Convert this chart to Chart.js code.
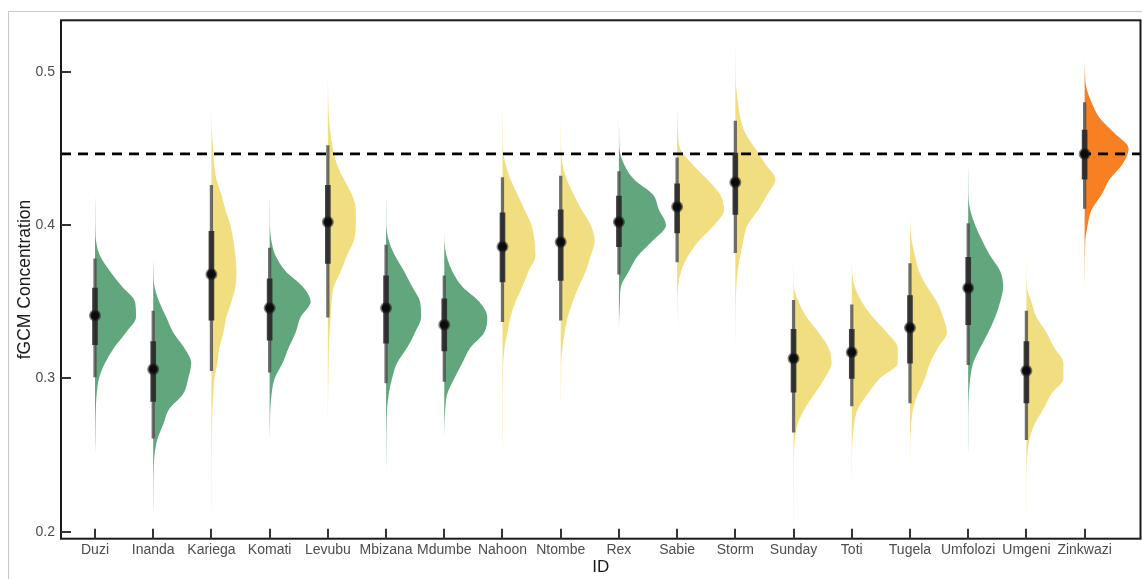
<!DOCTYPE html>
<html>
<head>
<meta charset="utf-8">
<script src="https://cdn.jsdelivr.net/npm/chart.js@4.4.1/dist/chart.umd.min.js"></script>
<style>
  html, body { margin: 0; padding: 0; background: #fff; overflow: hidden; }
  #wrap { position: relative; width: 1142px; height: 579px; overflow: hidden; }
  #frame { position: absolute; left: 8px; top: 11px; width: 1200px; height: 700px; border: 1px solid #c9c9c9; }
  #chart { position: absolute; left: 0; top: 0; }
</style>
</head>
<body>
<div id="wrap">
  <div id="frame"></div>
  <canvas id="chart" width="1142" height="579"></canvas>
</div>
<script>
// Sites along the x axis
const sites = ['Duzi', 'Inanda', 'Kariega', 'Komati', 'Levubu', 'Mbizana', 'Mdumbe', 'Nahoon', 'Ntombe',
    'Rex', 'Sabie', 'Storm', 'Sunday', 'Toti', 'Tugela', 'Umfolozi', 'Umgeni', 'Zinkwazi'];
// g = green, y = yellow, o = orange group
const siteGroup = ['g', 'g', 'y', 'g', 'y', 'g', 'g', 'y', 'y', 'g', 'y', 'y', 'y', 'y', 'y', 'g', 'y', 'o'];

// Point summaries (median, 66% and 95% intervals)
const median = [0.341, 0.306, 0.368, 0.346, 0.402, 0.346, 0.335, 0.386, 0.389, 0.402, 0.412, 0.428, 0.313, 0.317, 0.333, 0.359, 0.305, 0.4465];
const lo66 = [0.322, 0.285, 0.338, 0.325, 0.375, 0.323, 0.318, 0.363, 0.364, 0.386, 0.395, 0.407, 0.291, 0.300, 0.310, 0.335, 0.284, 0.430];
const hi66 = [0.359, 0.324, 0.396, 0.365, 0.426, 0.367, 0.352, 0.408, 0.410, 0.419, 0.427, 0.447, 0.332, 0.332, 0.354, 0.379, 0.324, 0.462];
const lo95 = [0.301, 0.261, 0.305, 0.304, 0.340, 0.297, 0.298, 0.337, 0.338, 0.368, 0.376, 0.382, 0.265, 0.282, 0.284, 0.309, 0.260, 0.411];
const hi95 = [0.378, 0.344, 0.426, 0.385, 0.452, 0.387, 0.367, 0.431, 0.432, 0.435, 0.444, 0.468, 0.351, 0.348, 0.375, 0.401, 0.344, 0.480];

// Density profiles: first value, then one density reading every 0.01
const densLow = [0.25, 0.21, 0.21, 0.26, 0.27, 0.24, 0.26, 0.25, 0.28, 0.33, 0.33, 0.32, 0.20, 0.23, 0.24, 0.25, 0.21, 0.36];
const densWidth = [
    [0, 0.3, 0.5, 0.8, 1.7, 4, 10, 19, 31, 41, 40, 27, 15, 5, 1, 0.3, 0.2, 0],
    [0, 0.2, 0.3, 0.5, 1.3, 4, 10, 16, 30, 35, 38, 31, 20, 13, 6, 1.3, 0.3, 0],
    [0, 0.2, 0.2, 0.3, 0.3, 0.5, 0.7, 1, 2, 3, 6, 8, 12, 15, 20, 24, 25, 24, 22, 19, 14, 10, 5, 2.7, 1.7, 0.5, 0.2, 0],
    [0, 0.3, 0.7, 2, 5, 13, 19, 26, 31, 41, 33, 16, 6, 1.7, 0.3, 0.2, 0],
    [0, 0.2, 0.3, 0.5, 0.7, 1, 1.7, 2.7, 3.7, 6, 13, 19, 26, 28, 28, 24, 16, 9, 5, 2.7, 1, 0.5, 0.2, 0],
    [0, 0.2, 0.3, 0.5, 1, 2.7, 6, 11, 21, 29, 35, 34, 26, 18, 9, 2.7, 0.3, 0.2, 0],
    [0, 0.3, 1, 3, 10, 18, 26, 40, 43, 35, 18, 8, 2.3, 0.2, 0],
    [0, 0.2, 0.3, 0.3, 0.3, 0.5, 0.7, 2, 5, 8, 13, 20, 26, 33, 32, 29, 22, 15, 8, 3, 0.5, 0.3, 0.2, 0],
    [0, 0.2, 0.3, 0.5, 1.7, 4, 7, 12, 18, 25, 30, 34, 30, 21, 13, 6, 1.7, 0.5, 0.2, 0],
    [0, 0.3, 1, 2, 10, 19, 34, 47, 40, 34, 15, 5, 0.5, 0.2, 0],
    [0, 0.2, 0.3, 1, 4, 11, 22, 37, 47, 43, 30, 15, 3, 1, 0.3, 0],
    [0, 0.2, 0.3, 0.5, 1, 2.3, 5, 8, 12, 23, 32, 40, 30, 20, 10, 5, 2.7, 0.8, 0.3, 0.2, 0],
    [0, 0.2, 0.2, 0.3, 0.3, 0.5, 1.3, 4, 11, 21, 31, 38, 35, 25, 13, 5, 0.5, 0.2, 0],
    [0, 0.2, 0.3, 0.7, 2.3, 6, 16, 28, 46, 46, 35, 21, 10, 3, 0.3, 0],
    [0, 0.2, 0.3, 1.3, 3, 8, 15, 20, 28, 37, 33, 27, 17, 9, 5, 1.7, 0.3, 0],
    [0, 0.2, 0.2, 0.3, 0.7, 2, 5, 12, 20, 27, 32, 35, 32, 22, 14, 7, 2, 0.3, 0.2, 0],
    [0, 0.2, 0.2, 0.3, 1, 3, 8, 17, 25, 37, 37, 28, 20, 10, 5, 0.5, 0.2, 0],
    [0, 0.2, 0.3, 0.7, 3, 7, 17, 25, 38, 44, 30, 15, 7, 1.7, 0.3, 0]
];

const threshold = 0.4465;
const yTicks = [0.2, 0.3, 0.4, 0.5];

const groupColor = { g: '#61a67c', y: '#f0de80', o: '#f68022' };
const X_MIN = 0.416, X_MAX = 18.96;
const slabScale = 1 / 58.2;   // density reading -> category width
const fontFamily = "'Liberation Sans', Arial, Helvetica, sans-serif";

// Half-violin slabs, drawn sideways and filled back to the site position
const slabSets = sites.map((name, i) => ({
    type: 'line',
    label: name,
    indexAxis: 'y',
    data: densWidth[i].map((w, k) => ({ x: i + 1 + w * slabScale, y: +(densLow[i] + k * 0.01).toFixed(2) })),
    borderWidth: 0,
    borderColor: 'rgba(0,0,0,0)',
    pointRadius: 0,
    backgroundColor: groupColor[siteGroup[i]],
    fill: { value: i + 1 },
    cubicInterpolationMode: 'monotone',
    order: 5
}));

const datasets = slabSets.concat([
    {
        type: 'line',
        label: 'threshold',
        data: [{ x: X_MIN, y: threshold }, { x: X_MAX, y: threshold }],
        borderColor: '#000',
        borderWidth: 2.6,
        borderDash: [10, 7],
        pointRadius: 0,
        fill: false,
        order: 4
    },
    {
        type: 'bar',
        label: '95%',
        data: sites.map((s, i) => ({ x: i + 1, y: [lo95[i], hi95[i]] })),
        backgroundColor: 'rgba(75,75,75,0.8)',
        barThickness: 2.6,
        grouped: false,
        borderWidth: 0,
        order: 3
    },
    {
        type: 'bar',
        label: '66%',
        data: sites.map((s, i) => ({ x: i + 1, y: [lo66[i], hi66[i]] })),
        backgroundColor: 'rgba(40,40,40,0.88)',
        barThickness: 5,
        grouped: false,
        borderWidth: 0,
        order: 2
    },
    {
        type: 'line',
        label: 'median',
        data: sites.map((s, i) => ({ x: i + 1, y: median[i] })),
        showLine: false,
        pointRadius: 4.6,
        pointBorderWidth: 2.8,
        pointBackgroundColor: '#0b0b0b',
        pointBorderColor: 'rgba(30,30,30,0.55)',
        order: 1
    }
]);

// Panel box with inward tick marks
const panelFrame = {
    id: 'panelFrame',
    afterDraw(chart) {
        const { ctx, chartArea: a, scales: { x, y } } = chart;
        ctx.save();
        ctx.strokeStyle = '#1a1a1a';
        ctx.lineWidth = 2;
        ctx.strokeRect(a.left, a.top, a.right - a.left, a.bottom - a.top);
        ctx.strokeStyle = '#333';
        ctx.beginPath();
        x.ticks.forEach(t => {
            const px = Math.round(x.getPixelForValue(t.value));
            ctx.moveTo(px, a.bottom);
            ctx.lineTo(px, a.bottom - 10);
        });
        y.ticks.forEach(t => {
            const py = Math.round(y.getPixelForValue(t.value));
            ctx.moveTo(a.left, py);
            ctx.lineTo(a.left + 10, py);
        });
        ctx.stroke();
        ctx.restore();
    }
};

new Chart(document.getElementById('chart').getContext('2d'), {
    type: 'line',
    data: { datasets: datasets },
    options: {
        responsive: false,
        animation: false,
        layout: { autoPadding: false, padding: { top: 20.3, right: 1.5, left: 0, bottom: 0 } },
        plugins: {
            legend: { display: false },
            tooltip: { enabled: false }
        },
        scales: {
            x: {
                type: 'linear',
                min: X_MIN,
                max: X_MAX,
                offset: false,
                afterBuildTicks: s => { s.ticks = sites.map((n, i) => ({ value: i + 1 })); },
                afterFit: s => { s.height = 40.3; s.paddingLeft = 0; s.paddingRight = 0; },
                grid: { display: false, drawTicks: false },
                border: { display: false },
                ticks: {
                    autoSkip: false,
                    maxRotation: 0,
                    padding: 3,
                    color: '#4d4d4d',
                    font: { family: fontFamily, size: 14 },
                    callback: v => sites[Math.round(v) - 1]
                },
                title: {
                    display: true,
                    text: 'ID',
                    color: '#1a1a1a',
                    font: { family: fontFamily, size: 17 },
                    padding: { top: 0, bottom: 1.5 }
                }
            },
            y: {
                type: 'linear',
                min: 0.1954,
                max: 0.5337,
                afterBuildTicks: s => { s.ticks = yTicks.map(v => ({ value: v })); },
                afterFit: s => { s.width = 61; s.paddingTop = 0; s.paddingBottom = 0; },
                grid: { display: false, drawTicks: false },
                border: { display: false },
                ticks: {
                    padding: 6,
                    color: '#4d4d4d',
                    font: { family: fontFamily, size: 14 },
                    callback: v => v.toFixed(1)
                },
                title: {
                    display: true,
                    text: 'fGCM Concentration',
                    color: '#1a1a1a',
                    font: { family: fontFamily, size: 17.5 },
                    padding: { top: 14.5, bottom: 0 }
                }
            }
        }
    },
    plugins: [panelFrame]
});
</script>
</body>
</html>
